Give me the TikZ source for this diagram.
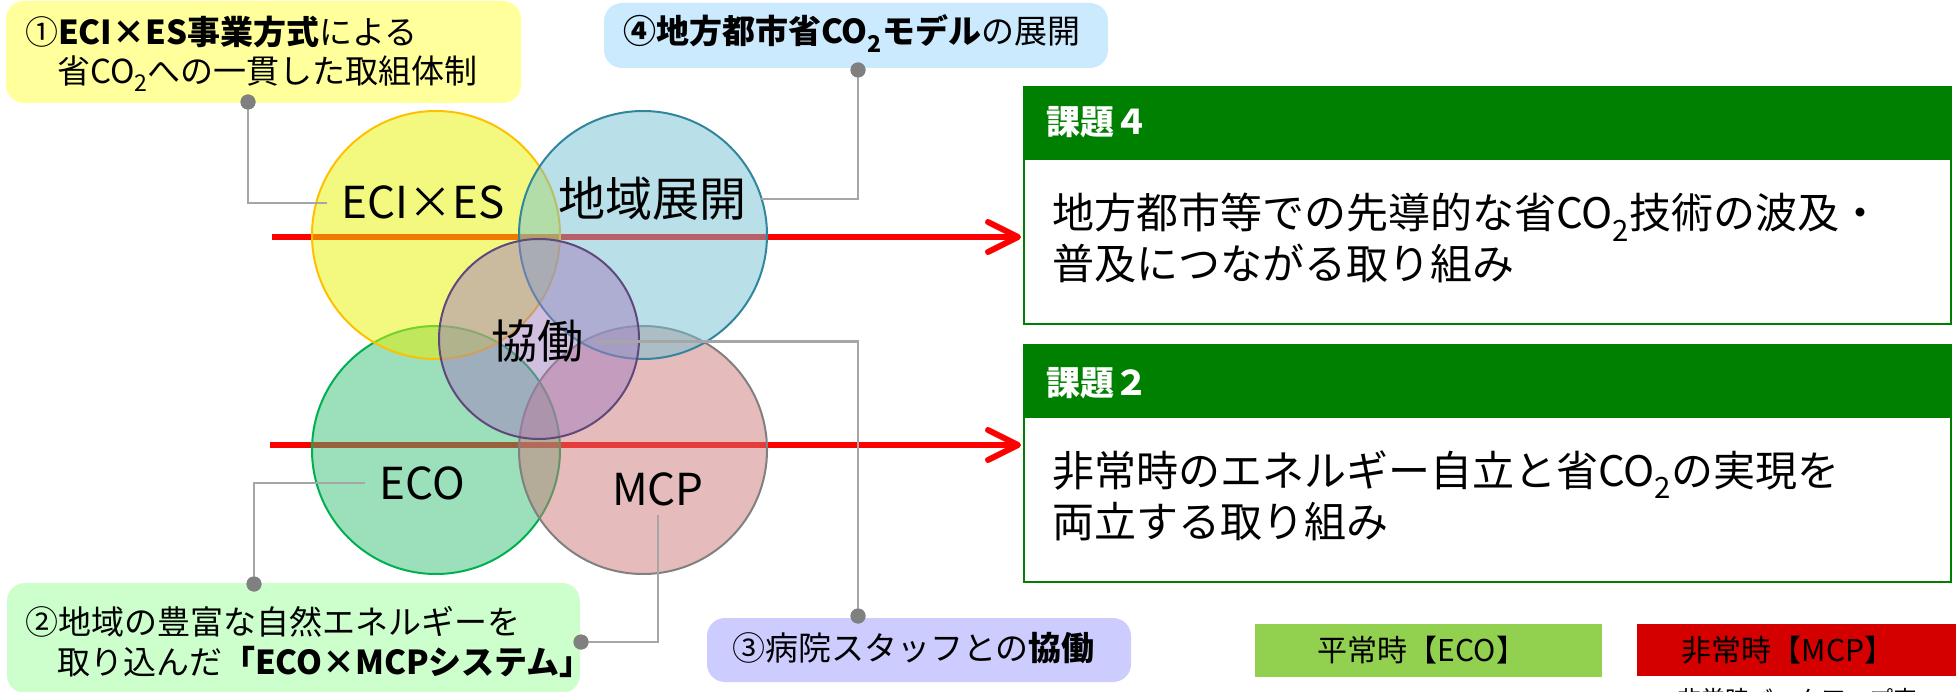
\documentclass[tikz,border=0pt]{standalone}
\usepackage{fontspec}
\setmainfont{Noto Sans CJK JP}
\usetikzlibrary{arrows.meta}
\definecolor{noteY}{HTML}{FFFF9C}
\definecolor{noteB}{HTML}{CCEAFE}
\definecolor{noteG}{HTML}{CCFFCC}
\definecolor{noteP}{HTML}{CCCCFF}
\definecolor{cYf}{HTML}{E7F300}
\definecolor{cYd}{HTML}{FFC000}
\definecolor{cBf}{HTML}{73BFD1}
\definecolor{cBd}{HTML}{31859C}
\definecolor{cGf}{HTML}{37BF77}
\definecolor{cGd}{HTML}{00B050}
\definecolor{cPf}{HTML}{CD7777}
\definecolor{cPd}{HTML}{808080}
\definecolor{cVf}{HTML}{A37FBF}
\definecolor{cVd}{HTML}{5F497A}
\definecolor{kGreen}{HTML}{008000}
\definecolor{legG}{HTML}{92D050}
\definecolor{legR}{HTML}{D40000}
\definecolor{connC}{HTML}{A6A6A6}
\definecolor{dotC}{HTML}{808080}
\newcommand{\myfs}[1]{\fontsize{#1}{#1}\selectfont}
\begin{document}
\begin{tikzpicture}[x=1pt,y=-1pt,
  every node/.style={inner sep=0pt,outer sep=0pt},
  notebox/.style={rounded corners=18pt,anchor=north west},
  ring/.style={circle,inner sep=0pt,minimum size=248pt,line width=2pt,fill opacity=0.5},
  lbl/.style={anchor=base,inner xsep=14pt,inner ysep=9pt,font=\myfs{44}},
  ntxt/.style={anchor=base west,font=\myfs{33}},
  conn/.style={draw=connC,line width=2.5pt},
  dot/.style={circle,fill=dotC,minimum size=15pt},
  redarrow/.style={draw=red,line width=6pt,-{Straight Barb[length=30pt,width=30pt,round]},shorten >=3pt},
  kbox/.style={draw=kGreen,line width=2pt,fill=white,anchor=north west,minimum width=927pt,minimum height=237pt},
  khead/.style={fill=kGreen,anchor=north west,minimum width=927pt,minimum height=73pt},
  ktitle/.style={anchor=base west,text=white,font=\myfs{34}\bfseries},
  kbody/.style={anchor=base west,font=\myfs{42}},
  legtxt/.style={anchor=base,font=\myfs{30}}
]
\useasboundingbox (0,0) rectangle (1956,692);
\clip (0,0) rectangle (1956,692);

% note boxes
\node[notebox,fill=noteY,minimum width=515pt,minimum height=102pt] (bY) at (6,1) {};
\node[notebox,fill=noteB,minimum width=504pt,minimum height=65pt] (bB) at (604,3) {};
\node[notebox,fill=noteG,minimum width=573pt,minimum height=110pt] (bG) at (7,583) {};
\node[notebox,fill=noteP,minimum width=424pt,minimum height=64pt] (bP) at (707,618) {};

\node[ntxt] (tY1) at (25,44.5) {①\textbf{ECI×ES事業方式}による};
\node[ntxt] (tY2) at (57,83.5) {省CO\textsubscript{2}への一貫した取組体制};
\node[ntxt] (tB1) at (623,43.5) {\textbf{④地方都市省CO\textsubscript{2}モデル}の展開};
\node[ntxt] (tG1) at (25,634.5) {②地域の豊富な自然エネルギーを};
\node[ntxt] (tG2) at (57,674.5) {取り込んだ\textbf{「ECO×MCPシステム」}};
\node[ntxt] (tP1) at (732,660.5) {③病院スタッフとの\textbf{協働}};

% red arrows (behind circles)
\coordinate (a1) at (272,237);
\coordinate (a2) at (270,445);

% task boxes
\node[kbox] (k4) at (1024,87) {};
\node[khead] (k4h) at (1024,87) {};
\node[kbox] (k2) at (1024,345) {};
\node[khead] (k2h) at (1024,345) {};
\node[ktitle] (k4t) at (1046,135) {課題４};
\node[ktitle] (k2t) at (1046,395) {課題２};
\node[kbody] (k4l1) at (1052,229) {地方都市等での先導的な省CO\textsubscript{2}技術の波及・};
\node[kbody] (k4l2) at (1052,280) {普及につながる取り組み};
\node[kbody] (k2l1) at (1052,486) {非常時のエネルギー自立と省CO\textsubscript{2}の実現を};
\node[kbody] (k2l2) at (1052,537) {両立する取り組み};

\draw[redarrow] (a1) -- (a1 -| k4.west);
\draw[redarrow] (a2) -- (a2 -| k2.west);

% circles
\node[ring,fill=cGf,draw=cGd] (cG) at (436,450) {};
\node[ring,fill=cPf,draw=cPd] (cP) at (643,450) {};
\node[ring,fill=cYf,draw=cYd] (cY) at (436,235) {};
\node[ring,fill=cBf,draw=cBd] (cB) at (643,235) {};
\node[ring,fill=cVf,draw=cVd,minimum size=200pt] (cV) at (539,339) {};

% circle labels
\node[lbl] (lECI) at (423,219) {ECI×ES};
\node[lbl,font=\myfs{47}] (lCHI) at (652,217) {地域展開};
\node[lbl,font=\myfs{46}] (lKYO) at (537,359) {協働};
\node[lbl] (lECO) at (422,499) {ECO};
\node[lbl] (lMCP) at (658,505) {MCP};

% dots
\node[dot] (dY) at (248,102) {};
\node[dot] (dB) at (858,70) {};
\node[dot] (dG) at (254,584) {};
\node[dot] (dG2) at (581,642) {};
\node[dot] (dP) at (858,616) {};

% connectors
\draw[conn] (lECI.west) -| (dY.center);
\draw[conn] (lCHI.east) -| (dB.center);
\draw[conn] (lKYO.east) -| (dP.center);
\draw[conn] (lECO.west) -| (dG.center);
\draw[conn] (lMCP.south) |- (dG2.center);
\node[dot] at (dY) {};
\node[dot] at (dB) {};
\node[dot] at (dG) {};
\node[dot] at (dG2) {};
\node[dot] at (dP) {};

% legend
\node[fill=legG,anchor=north west,minimum width=347pt,minimum height=53pt] (lgG) at (1255,624) {};
\node[fill=legR,anchor=north west,minimum width=330pt,minimum height=52pt] (lgR) at (1637,624) {};
\node[legtxt] (lgGt) at (1422,661) {平常時【ECO】};
\node[legtxt] (lgRt) at (1788,661) {非常時【MCP】};
\node[anchor=base,font=\myfs{24}] (cut) at (1797,708) {非常時バックアップ率};
\end{tikzpicture}
\end{document}
